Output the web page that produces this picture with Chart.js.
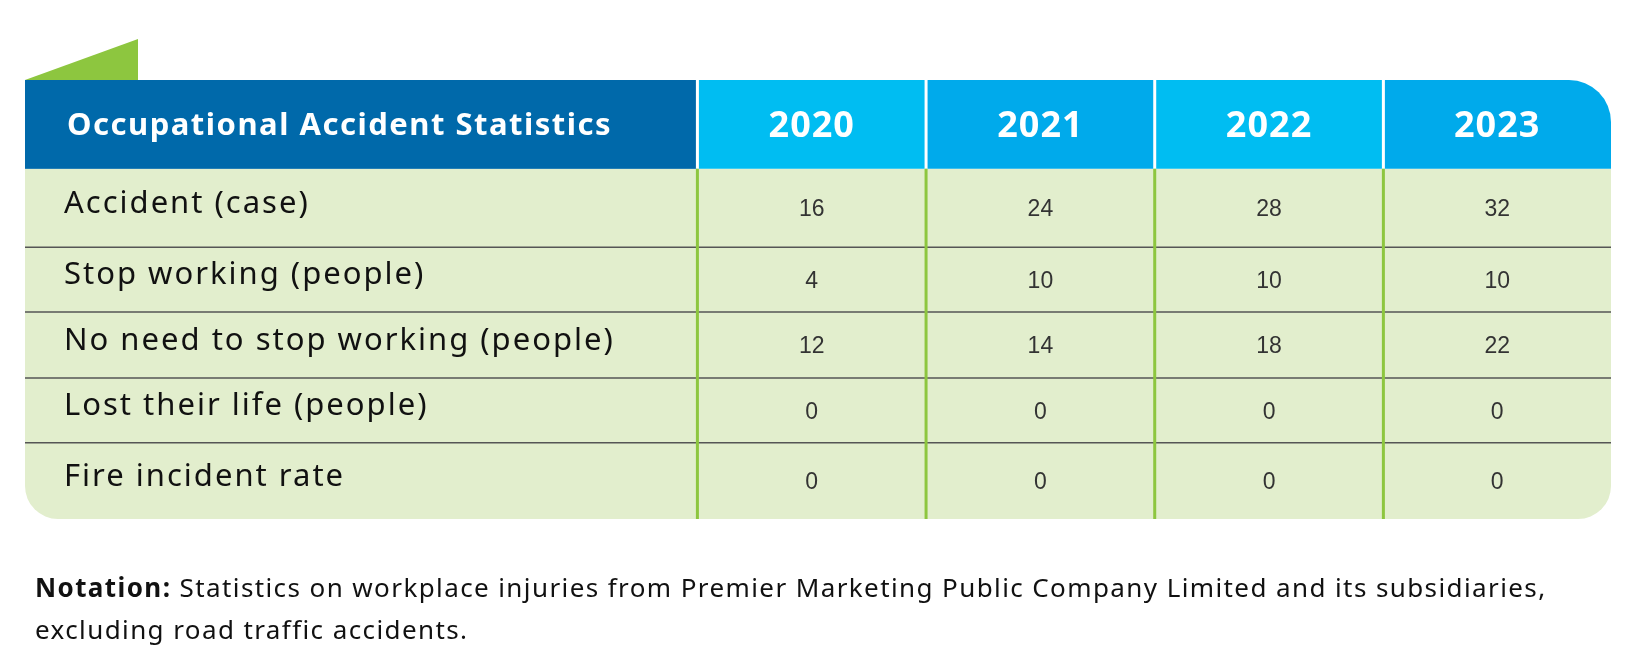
<!DOCTYPE html>
<html><head><meta charset="utf-8">
<script src="https://cdn.jsdelivr.net/npm/chart.js"></script>
<style>body{margin:0;background:#fff}#wrap{width:1637px;height:662px;position:relative}
#note{position:absolute;left:35px;top:566px;font:26px "Noto Sans",sans-serif;letter-spacing:1.4px;color:#111;line-height:42px;white-space:nowrap}</style>
</head><body><div id="wrap"><canvas id="c" width="1637" height="662"></canvas>
<div id="note"><b>Notation:</b> Statistics on workplace injuries from Premier Marketing Public Company Limited and its subsidiaries,<br>excluding road traffic accidents.</div></div>
<script>
const title = 'Occupational Accident Statistics';
const years = ['2020', '2021', '2022', '2023'];
const rows = ['Accident (case)', 'Stop working (people)', 'No need to stop working (people)', 'Lost their life (people)', 'Fire incident rate'];
const v2020 = [16, 4, 12, 0, 0];
const v2021 = [24, 10, 14, 0, 0];
const v2022 = [28, 10, 18, 0, 0];
const v2023 = [32, 10, 22, 0, 0];
const series = [v2020, v2021, v2022, v2023];

// relative column widths and row heights
const colW = [644, 219, 219, 219, 218];
const rowH = [85, 75, 62, 63, 62, 73];

const tablePlugin = {
  id: 'table',
  afterDraw(chart) {
    const {ctx, chartArea: a} = chart;
    const W = a.right - a.left, H = a.bottom - a.top;
    const sw = colW.reduce((s, x) => s + x, 0), sh = rowH.reduce((s, x) => s + x, 0);
    const cx = [a.left]; colW.forEach(w => cx.push(cx[cx.length - 1] + w / sw * W));
    const ry = [a.top]; rowH.forEach(h => ry.push(ry[ry.length - 1] + h / sh * H));
    ctx.save();
    // green tab
    ctx.fillStyle = '#8dc63f';
    ctx.beginPath(); ctx.moveTo(a.left, a.top); ctx.lineTo(a.left + 113, a.top - 41); ctx.lineTo(a.left + 113, a.top); ctx.closePath(); ctx.fill();
    // body
    ctx.fillStyle = '#e2eecd';
    ctx.beginPath(); ctx.roundRect(a.left, ry[1], W, a.bottom - ry[1], [0, 0, 33, 33]); ctx.fill();
    // header
    ctx.fillStyle = '#0069aa';
    ctx.fillRect(cx[0], ry[0], cx[1] - cx[0], ry[1] - ry[0]);
    for (let i = 0; i < 4; i++) {
      ctx.fillStyle = i % 2 ? '#00aaeb' : '#00bdf2';
      ctx.beginPath();
      ctx.roundRect(cx[i + 1], ry[0], cx[i + 2] - cx[i + 1], ry[1] - ry[0], i === 3 ? [0, 42, 0, 0] : 0);
      ctx.fill();
    }
    ctx.strokeStyle = '#ffffff'; ctx.lineWidth = 3;
    for (let i = 1; i < 5; i++) { ctx.beginPath(); ctx.moveTo(cx[i], ry[0]); ctx.lineTo(cx[i], ry[1]); ctx.stroke(); }
    // row lines
    ctx.strokeStyle = '#555'; ctx.lineWidth = 1.5;
    for (let r = 2; r < 6; r++) { ctx.beginPath(); ctx.moveTo(a.left, ry[r]); ctx.lineTo(a.right, ry[r]); ctx.stroke(); }
    ctx.strokeStyle = '#8dc63f'; ctx.lineWidth = 3;
    for (let i = 1; i < 5; i++) { ctx.beginPath(); ctx.moveTo(cx[i], ry[1]); ctx.lineTo(cx[i], a.bottom); ctx.stroke(); }
    // header text
    ctx.fillStyle = '#fff'; ctx.textBaseline = 'middle';
    ctx.letterSpacing = '1.5px';
    ctx.font = 'bold 31px "Noto Sans", sans-serif'; ctx.textAlign = 'left';
    ctx.fillText(title, cx[0] + 42, (ry[0] + ry[1]) / 2 + 2);
    ctx.letterSpacing = '1px';
    ctx.font = 'bold 36px "Noto Sans", sans-serif'; ctx.textAlign = 'center';
    years.forEach((y, i) => ctx.fillText(y, (cx[i + 1] + cx[i + 2]) / 2, (ry[0] + ry[1]) / 2 + 2));
    // rows
    rows.forEach((label, r) => {
      const ym = (ry[r + 1] + ry[r + 2]) / 2;
      ctx.letterSpacing = '2px';
      ctx.fillStyle = '#111'; ctx.textAlign = 'left'; ctx.font = '31px "Noto Sans", sans-serif';
      ctx.fillText(label, cx[0] + 39, ym - 4);
      ctx.letterSpacing = '0px';
      ctx.fillStyle = '#333'; ctx.textAlign = 'center'; ctx.font = '23px "Liberation Sans", sans-serif';
      series.forEach((s, i) => ctx.fillText(String(s[r]), (cx[i + 1] + cx[i + 2]) / 2, ym + 2));
    });
    ctx.restore();
  }
};

new Chart(document.getElementById('c'), {
  type: 'bar',
  data: { labels: years, datasets: series.map((s, i) => ({ label: years[i], data: [], hidden: true })) },
  options: {
    responsive: false, animation: false,
    layout: { padding: { left: 25, right: 26, top: 80, bottom: 143 } },
    plugins: { legend: { display: false }, tooltip: { enabled: false } },
    scales: { x: { display: false }, y: { display: false } }
  },
  plugins: [tablePlugin]
});
</script></body></html>
